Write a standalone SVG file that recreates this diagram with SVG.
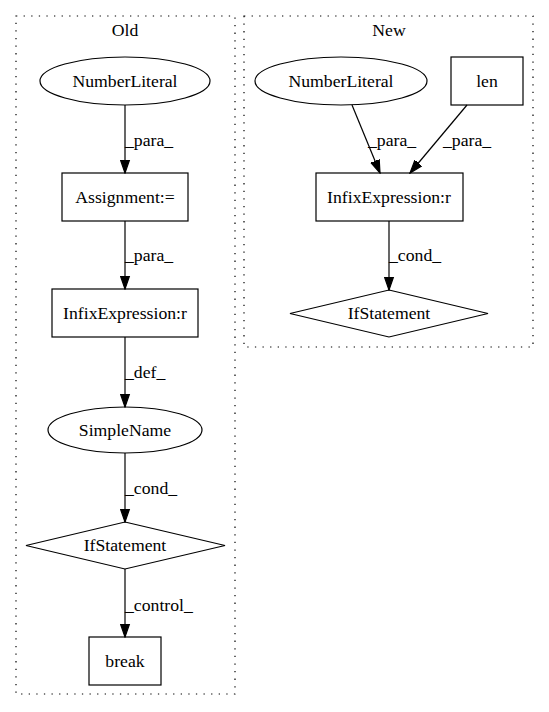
<svg xmlns="http://www.w3.org/2000/svg" width="549" height="712" viewBox="0 0 549 712">
<style>
text{font-family:"Liberation Serif","Times New Roman",serif;font-size:17.7px;fill:#000}
.c{text-anchor:middle}
.n{fill:none;stroke:#000;stroke-width:1.2}
.cl{fill:none;stroke:#000;stroke-width:1.2;stroke-dasharray:1.3,6.3}
.e{fill:none;stroke:#000;stroke-width:1.2}
</style>
<defs>
<marker id="ah" markerUnits="userSpaceOnUse" markerWidth="14" markerHeight="11" viewBox="0 -5.5 14 11" refX="13" refY="0" orient="auto">
<path d="M0,-4.5L13,0L0,4.5z" fill="#000" stroke="#000" stroke-width="1.2"/>
</marker>
</defs>
<rect width="549" height="712" fill="#fff"/>
<g id="cluster_old">
<rect class="cl" x="16" y="16" width="219" height="678"/>
<text class="c" x="125" y="36">Old</text>
</g>
<g id="cluster_new">
<rect class="cl" x="244" y="16" width="289" height="331"/>
<text class="c" x="389" y="36">New</text>
</g>
<g id="old_numberliteral">
<ellipse class="n" cx="125" cy="81" rx="85" ry="24"/>
<text class="c" x="125" y="87">NumberLiteral</text>
</g>
<g id="old_assignment">
<rect class="n" x="62" y="173" width="126" height="48"/>
<text class="c" x="125" y="203">Assignment:=</text>
</g>
<g id="old_infix">
<rect class="n" x="52" y="289" width="146" height="48"/>
<text class="c" x="125" y="319">InfixExpression:r</text>
</g>
<g id="old_simplename">
<ellipse class="n" cx="125" cy="430" rx="77" ry="23"/>
<text class="c" x="125" y="436">SimpleName</text>
</g>
<g id="old_ifstatement">
<polygon class="n" points="125,522 225,545.5 125,569 26,545.5"/>
<text class="c" x="125" y="551">IfStatement</text>
</g>
<g id="old_break">
<rect class="n" x="89" y="637" width="72" height="48"/>
<text class="c" x="125" y="667">break</text>
</g>
<g id="new_numberliteral">
<ellipse class="n" cx="341" cy="81" rx="86" ry="24"/>
<text class="c" x="341" y="87">NumberLiteral</text>
</g>
<g id="new_len">
<rect class="n" x="451" y="57" width="72" height="48"/>
<text class="c" x="487" y="87">len</text>
</g>
<g id="new_infix">
<rect class="n" x="316" y="173" width="147" height="48"/>
<text class="c" x="389" y="203">InfixExpression:r</text>
</g>
<g id="new_ifstatement">
<polygon class="n" points="389,290 488,313.5 389,337 290,313.5"/>
<text class="c" x="389" y="319">IfStatement</text>
</g>
<g id="connectors">
<line class="e" x1="125" y1="105" x2="125" y2="173" marker-end="url(#ah)"/>
<text x="125" y="146">_para_</text>
<line class="e" x1="125" y1="221" x2="125" y2="289" marker-end="url(#ah)"/>
<text x="125" y="261">_para_</text>
<line class="e" x1="125" y1="337" x2="125" y2="407" marker-end="url(#ah)"/>
<text x="125" y="378">_def_</text>
<line class="e" x1="125" y1="453" x2="125" y2="522" marker-end="url(#ah)"/>
<text x="125" y="494">_cond_</text>
<line class="e" x1="125" y1="569" x2="125" y2="637" marker-end="url(#ah)"/>
<text x="125" y="611">_control_</text>
<line class="e" x1="352" y1="105" x2="380" y2="173" marker-end="url(#ah)"/>
<text x="368" y="146">_para_</text>
<line class="e" x1="467" y1="105" x2="410" y2="173" marker-end="url(#ah)"/>
<text x="443" y="146">_para_</text>
<line class="e" x1="389" y1="221" x2="389" y2="290" marker-end="url(#ah)"/>
<text x="389" y="261">_cond_</text>
</g>
</svg>
